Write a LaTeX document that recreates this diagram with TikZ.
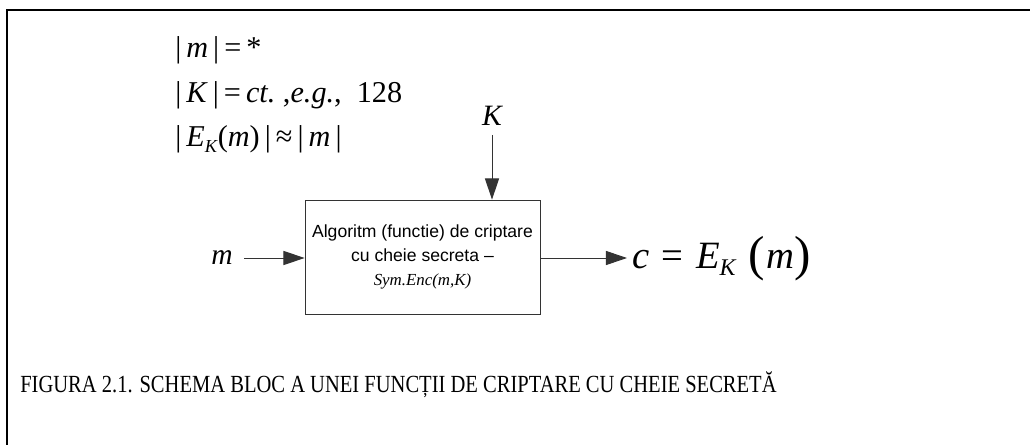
\documentclass[tikz,border=0pt]{standalone}
\usepackage{fontspec}
\setmainfont{Liberation Serif}
\newfontfamily\boxfont{Liberation Sans}
\newfontfamily\capfont[FakeStretch=0.835]{Liberation Serif}
\usetikzlibrary{arrows.meta,positioning}

\tikzset{
  flow/.style={-{Triangle[length=15pt,width=10pt]}, line width=0.7pt, black!80},
  formula/.style={font=\fontsize{21.5}{24}\selectfont, inner sep=0pt, anchor=base west},
}
% italic letters and the small lowered subscript
\newcommand{\iv}[1]{\textit{#1}}
\newcommand{\lowsub}[1]{\raisebox{-0.4ex}{\fontsize{13}{13}\selectfont\textit{#1}}}

\begin{document}
\begin{tikzpicture}[x=0.025cm,y=-0.025cm]
    \useasboundingbox (0,0) rectangle (1030,445);

    % Frame
    \draw[line width=1.5pt] (7,445) -- (7,10) -- (1030,10);

    % Lengths of message, key and ciphertext
    \node[formula] (sizem) at (175,58) {|\,\iv{m}\,|\,=\,*};
    \node[formula] (sizek) at (175,103) {|\,\iv{K}\,|\,=\,\iv{ct.}\ ,\iv{e.g.},\ \ 128};
    \node[formula] (sizec) at (175,147) {|\,\iv{E}\lowsub{K}(\iv{m})\,|\,≈\,|\,\iv{m}\,|};

    % Encryption block
    \node[draw=black!80, line width=0.6pt, minimum width=235*0.025cm, minimum height=114*0.025cm,
          align=center, font=\boxfont\fontsize{12.5}{17}\selectfont] (algo) at (422.5,257)
        {Algoritm (functie) de criptare\\ cu cheie secreta –\\
         {\rmfamily\itshape\fontsize{12}{17}\selectfont Sym.Enc(m,K)}};

    % Key input
    \node[font=\fontsize{21}{22}\selectfont\itshape, inner sep=0pt] (keylbl) at (492,116) {K};
    \coordinate (keytop) at (492,135);
    \draw[flow] (keytop) -- (algo.north -| keytop);

    % Message in, ciphertext out
    \node[font=\fontsize{21}{22}\selectfont\itshape, inner sep=0pt, anchor=base] (msg) at (222,265) {m};
    \coordinate (msgend) at (244,258);
    \draw[flow] (msgend) -- (algo.west |- msgend);

    \node[font=\fontsize{27.5}{30}\selectfont, inner sep=0pt, anchor=base west] (ctext) at (632,268)
        {\iv{c}\hspace{0.32em}=\hspace{0.32em}\iv{E}\raisebox{-0.45ex}{\fontsize{17}{17}\selectfont\textit{K}}\hspace{0.3em}\raisebox{-0.12ex}{\fontsize{35}{35}\selectfont(}\hspace{0.05em}\iv{m}\raisebox{-0.12ex}{\fontsize{35}{35}\selectfont)}};
    \draw[flow] (algo.east |- msgend) -- ([xshift=-5*0.025cm]ctext.west |- msgend);

    % Caption
    \node[font=\capfont\fontsize{17.5}{20}\selectfont, inner sep=0pt, anchor=base west] (caption) at (20,392)
        {FIGURA 2.1. SCHEMA BLOC A UNEI FUNCȚII DE CRIPTARE CU CHEIE SECRETĂ};
\end{tikzpicture}
\end{document}
